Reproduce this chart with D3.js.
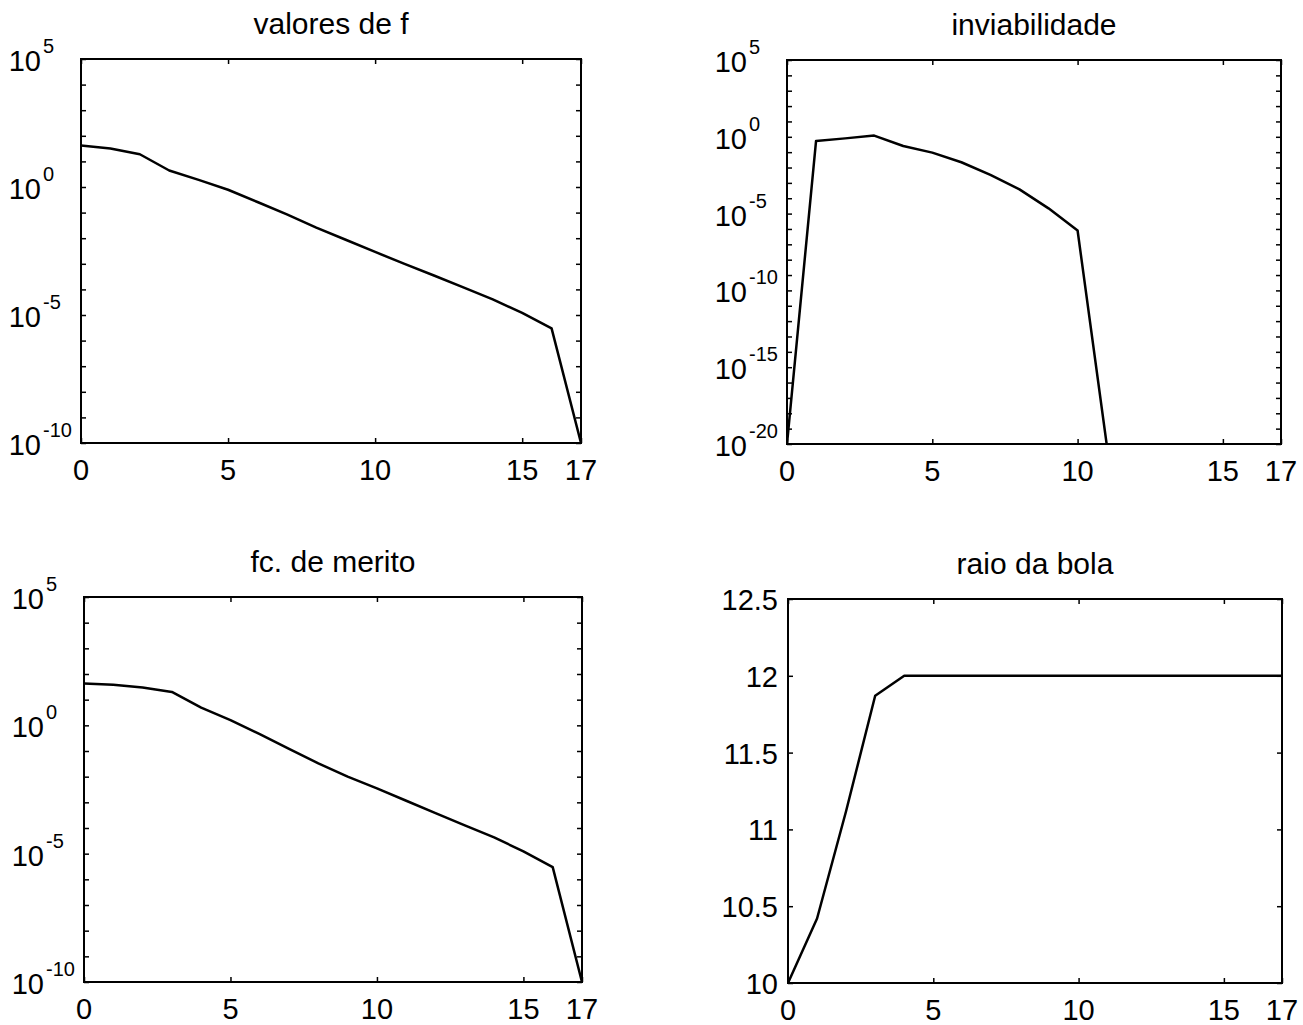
<!DOCTYPE html>
<html>
<head>
<meta charset="utf-8">
<script src="https://cdn.jsdelivr.net/npm/d3@7"></script>
<style>
  body { margin: 0; background: #fff; }
  text { font-family: "Liberation Sans", Arial, sans-serif; fill: #000; }
</style>
</head>
<body>
<script>
// iteration index (x axis)
var iters = [0, 1, 2, 3, 4, 5, 6, 7, 8, 9, 10, 11, 12, 13, 14, 15, 16, 17];

// valores de f
var valoresF = [42, 32, 19, 4.4, 1.9, 0.78, 0.26, 8.5e-2, 2.6e-2, 8.7e-3,
                2.9e-3, 1.0e-3, 3.5e-4, 1.2e-4, 4.1e-5, 1.2e-5, 3.0e-6, 1e-10];

// inviabilidade (after iteration 11 nothing is drawn)
var inviab = [1e-20, 0.54, 0.79, 1.2, 0.25, 9.3e-2, 2.2e-2, 3.3e-3, 3.8e-4,
              2.2e-5, 7.9e-7, 1e-20];

// fc. de merito
var merito = [43, 38, 30, 20, 4.9, 1.6, 0.45, 0.12, 3.3e-2, 1.0e-2,
              3.5e-3, 1.15e-3, 3.8e-4, 1.26e-4, 4.3e-5, 1.23e-5, 3.0e-6, 1e-10];

// raio da bola
var raio = [10, 10.42, 11.12, 11.87, 12, 12, 12, 12, 12, 12,
            12, 12, 12, 12, 12, 12, 12, 12];

var xTicks = [0, 5, 10, 15, 17];
var logTicksF = [5, 0, -5, -10];
var logTicksInv = [5, 0, -5, -10, -15, -20];
var linTicksRaio = [10, 10.5, 11, 11.5, 12, 12.5];

var W = 1303, H = 1025;
var svg = d3.select("body").append("svg")
            .attr("width", W)
            .attr("height", H);

var panels = [
  { title: "valores de f", values: valoresF, log: true, domain: [1e-10, 1e5],
    labels: logTicksF, box: { l: 81, r: 581, t: 59, b: 443 } },
  { title: "inviabilidade", values: inviab, log: true, domain: [1e-20, 1e5],
    labels: logTicksInv, box: { l: 787, r: 1281, t: 60, b: 444 } },
  { title: "fc. de merito", values: merito, log: true, domain: [1e-10, 1e5],
    labels: logTicksF, box: { l: 84, r: 582, t: 597, b: 982 } },
  { title: "raio da bola", values: raio, log: false, domain: [10, 12.5],
    labels: linTicksRaio, box: { l: 788, r: 1282, t: 599, b: 983 } }
];

panels.forEach(function (p, i) {
  var b = p.box;
  var w = b.r - b.l, h = b.b - b.t;
  var g = svg.append("g").attr("transform", `translate(${b.l},${b.t})`);

  var x = d3.scaleLinear().domain([0, 17]).range([0, w]);
  var y = p.log ? d3.scaleLog().domain(p.domain).range([h, 0])
                : d3.scaleLinear().domain(p.domain).range([h, 0]);

  // tick marks on all four sides, pointing inwards
  var yTickVals;
  if (p.log) {
    var lo = Math.log10(p.domain[0]), hi = Math.log10(p.domain[1]);
    yTickVals = d3.range(lo, hi + 1).map(function (e) { return Math.pow(10, e); });
  } else {
    yTickVals = p.labels;
  }

  var tickStyle = function (sel) {
    sel.select(".domain").remove();
    sel.selectAll("line").attr("stroke", "#000").attr("stroke-width", 1.5);
    sel.selectAll("text").remove();
  };

  g.append("g").attr("transform", `translate(0,${h})`)
   .call(d3.axisBottom(x).tickValues(xTicks).tickSize(-5)).call(tickStyle);
  g.append("g")
   .call(d3.axisTop(x).tickValues(xTicks).tickSize(-5)).call(tickStyle);
  g.append("g")
   .call(d3.axisLeft(y).tickValues(yTickVals).tickSize(-5)).call(tickStyle);
  g.append("g").attr("transform", `translate(${w},0)`)
   .call(d3.axisRight(y).tickValues(yTickVals).tickSize(-5)).call(tickStyle);

  // x tick labels
  g.selectAll(".xlab")
   .data(xTicks)
   .enter()
   .append("text")
   .attr("class", "xlab")
   .attr("x", d => x(d))
   .attr("y", h + 37)
   .attr("text-anchor", "middle")
   .attr("font-size", "29px")
   .text(d => d);

  // y tick labels
  if (p.log) {
    var yl = g.selectAll(".ylab")
              .data(p.labels)
              .enter()
              .append("g")
              .attr("class", "ylab")
              .attr("transform", d => `translate(0,${y(Math.pow(10, d))})`);
    yl.append("text")
      .attr("x", -40)
      .attr("y", 12)
      .attr("text-anchor", "end")
      .attr("font-size", "29px")
      .text("10");
    yl.append("text")
      .attr("x", -38)
      .attr("y", -6)
      .attr("text-anchor", "start")
      .attr("font-size", "20px")
      .text(d => String(d));
  } else {
    g.selectAll(".ylab")
     .data(p.labels)
     .enter()
     .append("text")
     .attr("class", "ylab")
     .attr("x", -10)
     .attr("y", d => y(d) + 11)
     .attr("text-anchor", "end")
     .attr("font-size", "29px")
     .text(d => d);
  }

  // title
  g.append("text")
   .attr("x", w / 2)
   .attr("y", -25)
   .attr("text-anchor", "middle")
   .attr("font-size", "30px")
   .text(p.title);

  // data line, clipped to the frame
  svg.append("clipPath").attr("id", "clip" + i)
     .append("rect").attr("width", w).attr("height", h);

  var line = d3.line()
               .x((d, j) => x(iters[j]))
               .y(d => y(d));

  g.append("path")
   .datum(p.values)
   .attr("clip-path", `url(#clip${i})`)
   .attr("fill", "none")
   .attr("stroke", "#000")
   .attr("stroke-width", 2.5)
   .attr("stroke-linejoin", "round")
   .attr("d", line);

  // frame
  g.append("rect")
   .attr("width", w)
   .attr("height", h)
   .attr("fill", "none")
   .attr("stroke", "#000")
   .attr("stroke-width", 2);
});
</script>
</body>
</html>
